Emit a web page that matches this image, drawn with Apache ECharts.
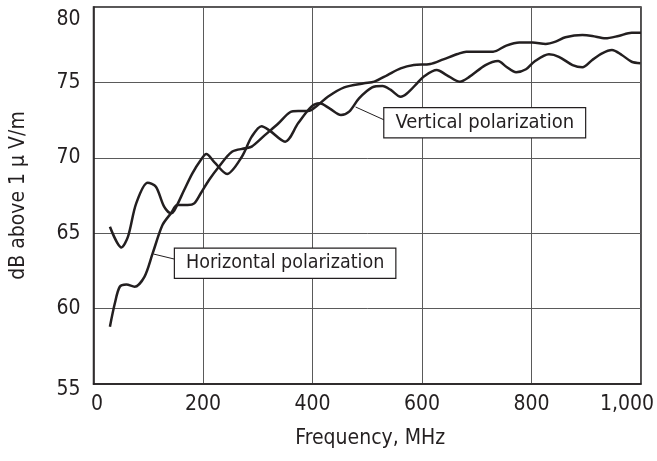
<!DOCTYPE html>
<html><head><meta charset="utf-8">
<script src="https://cdn.jsdelivr.net/npm/echarts@6/dist/echarts.min.js"></script>
<style>html,body{margin:0;padding:0;background:#fff}#c{width:657px;height:461px}</style>
</head><body><div id="c"></div>
<script>
// Vertical polarization (oscillating curve)
const freqV = [30,51,63,78,99,114,129,141.5,147.5,165.6,180.6,196,206,221,244,271,289,307,322,350,374,398,413,431,452,467,485,509,528,543,561,573,591,603,627,645,669,687,716,739,754,772,790,805,832,850,875,893,911,929,947,965,983,999];
const levelV = [65.43,64.06,64.77,66.98,68.35,68.08,66.76,66.32,66.5,67.86,68.97,69.85,70.25,69.7,68.93,70.07,71.4,72.1,71.8,71.07,72.3,73.39,73.61,73.28,72.84,73.06,73.94,74.67,74.76,74.5,74.05,74.28,74.94,75.38,75.82,75.49,75.05,75.38,76.15,76.42,76.04,75.67,75.87,76.37,76.86,76.7,76.15,76.0,76.49,76.93,77.15,76.82,76.37,76.27];
// Horizontal polarization (smoother curve)
const freqH = [30,39,48,60,75,93,108,126,141.5,153,172,184,196,211,229,253,277,289,313,338,359,374,392,410,428,458,494,513,537,561,585,615,639,665,681,730,754,778,802,826,844,862,893,911,935,959,983,1000];
const levelH = [58.8,60.35,61.45,61.6,61.45,62.11,63.66,65.54,66.32,66.87,66.87,66.98,67.65,68.53,69.41,70.4,70.63,70.74,71.5,72.29,73.02,73.1,73.1,73.5,74.05,74.67,74.94,75.05,75.49,75.93,76.15,76.22,76.53,76.88,77.04,77.04,77.44,77.64,77.64,77.55,77.7,77.99,78.14,78.08,77.92,78.08,78.3,78.3];
const xTicks = [0,200,400,600,800,1000];
const xTickLabels = ['0','200','400','600','800','1,000'];
const yTicks = [55,60,65,70,75,80];
const xName = 'Frequency, MHz';
const yName = 'dB above 1 µ V/m';
const labelV = 'Vertical polarization';
const labelH = 'Horizontal polarization';
// annotation anchors in data space: [box center], [leader start on curve], [leader end at box]
const annV = {box:[714.6,72.32], from:[478.7,73.37], to:[531,72.51]};
const annH = {box:[350,63.01], from:[109.5,63.62], to:[155,63.22]};

const FONT = '"Liberation Sans Narrow","DejaVu Sans Condensed","Roboto Condensed",sans-serif';
const INK = '#231f20';
const chart = echarts.init(document.getElementById('c'), null, {renderer:'canvas'});

function annotated(ann, text, fs){
  return {
    markLine: {silent:true, symbol:['none','none'], animation:false,
      lineStyle:{color:INK, width:1, type:'solid'}, label:{show:false},
      data:[[{coord:ann.from},{coord:ann.to}]]},
    markPoint: {silent:true, symbol:'rect', symbolSize:0, animation:false,
      data:[{coord:ann.box, label:{show:true, position:'inside', formatter:text,
        fontFamily:FONT, fontSize:fs, color:INK, backgroundColor:'#fff',
        borderColor:INK, borderWidth:1.2, padding:[4,11,4,11], lineHeight:21}}]}
  };
}

const lineStyle = {color:INK, width:2.5};
chart.setOption({
  animation:false,
  backgroundColor:'#fff',
  grid:{left:93.5, right:11, top:7, bottom:77, show:true, borderColor:INK, borderWidth:1.5, containLabel:false},
  xAxis:{type:'value', min:xTicks[0], max:xTicks[xTicks.length-1], interval:200,
    name:xName, nameLocation:'middle', nameGap:44,
    nameTextStyle:{fontFamily:FONT, fontSize:21, color:INK, padding:[0,0,0,6]},
    axisLine:{show:true, lineStyle:{color:INK, width:1.5}},
    axisTick:{show:false},
    splitLine:{show:true, lineStyle:{color:'#5a5a5a', width:1}},
    axisLabel:{margin:10, fontFamily:FONT, fontSize:21, color:INK,
      formatter:function(v){
        const i = xTicks.indexOf(v); const s = i>=0 ? xTickLabels[i] : String(v);
        if (v===xTicks[0]) return '{f|'+s+'}';
        if (v===xTicks[xTicks.length-1]) return '{l|'+s+'}';
        return s;
      },
      rich:{f:{fontFamily:FONT, fontSize:21, color:INK, padding:[0,0,0,7]},
            l:{fontFamily:FONT, fontSize:21, color:INK, padding:[0,28,0,0]}}}
  },
  yAxis:{type:'value', min:yTicks[0], max:yTicks[yTicks.length-1], interval:5,
    name:yName, nameLocation:'middle', nameGap:64, nameRotate:90,
    nameTextStyle:{fontFamily:FONT, fontSize:21, color:INK},
    axisLine:{show:true, lineStyle:{color:INK, width:1.5}},
    axisTick:{show:false},
    splitLine:{show:true, lineStyle:{color:'#5a5a5a', width:1}},
    axisLabel:{margin:13, fontFamily:FONT, fontSize:21, color:INK,
      formatter:function(v){
        if (v===yTicks[yTicks.length-1]) return '{t|'+v+'}';
        if (v===yTicks[0]) return '{b|'+v+'}';
        return String(v);
      },
      rich:{t:{fontFamily:FONT, fontSize:21, color:INK, padding:[25,0,0,0]},
            b:{fontFamily:FONT, fontSize:21, color:INK, padding:[12,0,0,0]}}}
  },
  series:[
    Object.assign({type:'line', name:labelV, showSymbol:false, smooth:0.3,
      lineStyle:lineStyle, data:freqV.map((f,i)=>[f,levelV[i]]), z:3}, annotated(annV,labelV,20)),
    Object.assign({type:'line', name:labelH, showSymbol:false, smooth:0.3,
      lineStyle:lineStyle, data:freqH.map((f,i)=>[f,levelH[i]]), z:3}, annotated(annH,labelH,19.5))
  ]
});
</script></body></html>
